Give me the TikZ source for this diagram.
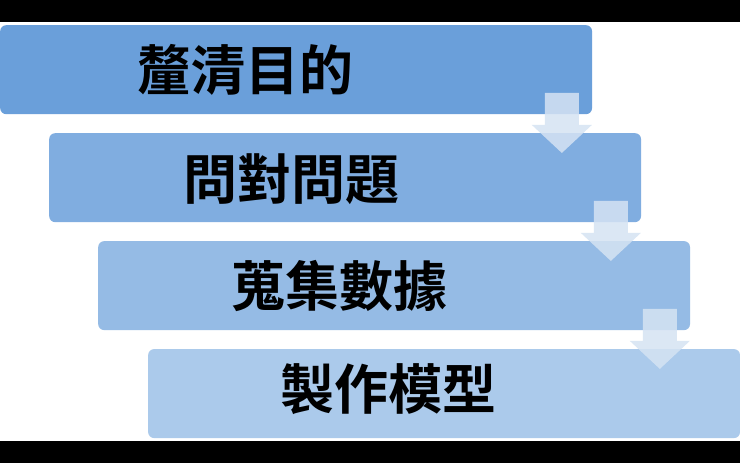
\documentclass[tikz,border=0pt]{standalone}
\usepackage{fontspec}
\usetikzlibrary{calc}
\newfontfamily\cjk{Noto Sans CJK TC}[BoldFont={Noto Sans CJK TC Bold}]
\definecolor{bA}{HTML}{6A9FDA}
\definecolor{bB}{HTML}{80ADE0}
\definecolor{bC}{HTML}{95BBE5}
\definecolor{bD}{HTML}{ABCAEB}
\definecolor{arr}{HTML}{D5E3F3}
\begin{document}
\begin{tikzpicture}[x=1pt,y=-1pt,
  stage/.style={rounded corners=6pt, draw=none, minimum width=592pt, minimum height=89pt, anchor=north west, inner sep=0pt},
  lab/.style={font=\cjk\bfseries\fontsize{54}{54}\selectfont, text=black},
  dn/.style={fill=arr, opacity=0.85, draw=none}]
\fill[white] (0,0) rectangle (740,463);
\fill[black] (0,0) rectangle (740,22);
\fill[black] (0,441) rectangle (740,463);
\node[stage, fill=bA] (s1) at (0,25) {};
\node[stage, fill=bB] (s2) at (49,133) {};
\node[stage, fill=bC] (s3) at (98,241) {};
\node[stage, fill=bD] (s4) at (148,349) {};
\node[lab] (t1) at ($(s1.west)+(246,0)$) {釐清目的};
\node[lab] (t2) at ($(s2.west)+(243,2)$) {問對問題};
\node[lab] (t3) at ($(s3.west)+(242,0)$) {蒐集數據};
\node[lab] (t4) at ($(s4.west)+(241,-4)$) {製作模型};
\foreach \s/\x/\y in {s1/562/93, s2/611/201, s3/660/309}{
  \fill[dn] (\x-17,\y) -- (\x+17,\y) -- (\x+17,\y+32) -- (\x+30,\y+32) -- (\x,\y+60) -- (\x-30,\y+32) -- (\x-17,\y+32) -- cycle;
}
\end{tikzpicture}
\end{document}
